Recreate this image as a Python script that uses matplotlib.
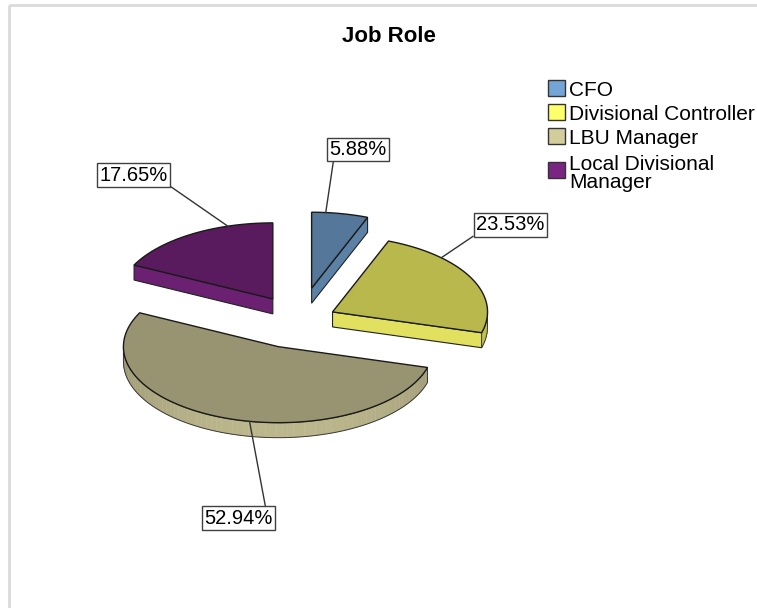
import numpy as np
import matplotlib.pyplot as plt
from matplotlib.patches import Polygon, Rectangle
from matplotlib.collections import PolyCollection
from matplotlib.colors import to_rgb

plt.rcParams['font.family'] = ['Liberation Sans', 'DejaVu Sans']

roles = ['CFO', 'Divisional Controller', 'LBU Manager', 'Local Divisional\nManager']
pcts = [5.88, 23.53, 52.94, 17.65]
colors = ['#74a5d6', '#ffff6b', '#d3cd9d', '#7b2583']

# label box offsets from the anchor point on the rim (px) and where the leader meets the box
label_offsets = [(32, -63), (69, -33), (-11, 97), (-94, -51)]
label_relpos = [(0.08, 0), (0, 0), (0.9, 1), (1, 0)]

W, H = 757, 608
fig = plt.figure(figsize=(W / 100, H / 100), dpi=100)
ax = fig.add_axes([0, 0, 1, 1])
ax.set_xlim(0, W)
ax.set_ylim(H, 0)
ax.axis('off')

# outer chart frame
ax.add_patch(Rectangle((9, 5), 900, 800, fill=False, ec='#dadada', lw=2))

ax.text(389, 36, 'Job Role', ha='center', va='center', fontsize=16, fontweight='bold')

# tilted pie geometry
a, b, depth = 155, 76, 15
cx, cy = 299.5, 320
explode = 34


def shade(col, facing):
    f = 0.72 + 0.17 * max(0.0, facing)
    return tuple(min(1, c * f) for c in to_rgb(col))


def rim(x0, y0, t):
    return np.column_stack([x0 + a * np.sin(t), y0 - b * np.cos(t)])


fracs = np.array(pcts) / np.sum(pcts)
ends = np.cumsum(fracs) * 2 * np.pi
starts = ends - fracs * 2 * np.pi

slices = []
for i in range(len(pcts)):
    t0, t1 = starts[i], ends[i]
    m = (t0 + t1) / 2
    u = np.array([np.sin(m), -np.cos(m)])
    v = np.array([a * np.sin(m), -b * np.cos(m)])
    off = explode * v / np.linalg.norm(v)
    slices.append((i, t0, t1, m, u, cx + off[0], cy + off[1]))

# back slices first
slices.sort(key=lambda s: s[6])
for z, (i, t0, t1, m, u, x0, y0) in enumerate(slices):
    zo = 2 + z * 5
    col = colors[i]
    apex = np.array([x0, y0])
    down = np.array([0, depth])

    # visible cut faces
    for t, visible, normal in [(t0, np.sin(t0) < -1e-6, t0 - np.pi / 2),
                               (t1, np.sin(t1) > 1e-6, t1 + np.pi / 2)]:
        if visible:
            p = rim(x0, y0, np.array([t]))[0]
            quad = [apex, p, p + down, apex + down]
            ax.add_patch(Polygon(quad, closed=True, fc=shade(col, -np.cos(normal)),
                                 ec='#222222', lw=0.8, zorder=zo))

    # front part of the outer wall
    lo, hi = max(t0, np.pi / 2), min(t1, 3 * np.pi / 2)
    if hi > lo:
        ts = np.linspace(lo, hi, 80)
        top = rim(x0, y0, ts)
        bot = top + down
        strips = [[top[k], top[k + 1], bot[k + 1], bot[k]] for k in range(len(ts) - 1)]
        fcs = [shade(col, -np.cos((ts[k] + ts[k + 1]) / 2)) for k in range(len(ts) - 1)]
        ax.add_collection(PolyCollection(strips, facecolors=fcs, edgecolors=fcs,
                                         lw=0.3, zorder=zo + 1))
        outline = np.vstack([top, bot[::-1]])
        ax.add_patch(Polygon(outline, closed=True, fill=False, ec='#3a3a3a',
                             lw=0.7, zorder=zo + 1))

    # top face
    arc = rim(x0, y0, np.linspace(t0, t1, 120))
    ax.add_patch(Polygon(np.vstack([apex, arc]), closed=True, fc=shade(col, 0),
                         ec='#1a1a1a', lw=1.0, zorder=zo + 2))

    # percentage label with leader line
    s = 1 / np.sqrt((np.sin(m) / a) ** 2 + (np.cos(m) / b) ** 2)
    anchor = apex + s * u
    dx, dy = label_offsets[i]
    ax.annotate(f'{pcts[i]:.2f}%', xy=anchor, xytext=(anchor[0] + dx, anchor[1] + dy),
                ha='center', va='center', fontsize=14.5, zorder=40,
                bbox=dict(boxstyle='square,pad=0.12', fc='white', ec='#404040', lw=1),
                arrowprops=dict(arrowstyle='-', color='#333333', lw=1,
                                relpos=label_relpos[i], shrinkA=0, shrinkB=0))

# legend
y = 80
for role, col in zip(roles, colors):
    if '\n' in role:
        y += 10
        ax.text(569, y - 7, role, ha='left', va='top', fontsize=15, linespacing=0.9)
    else:
        ax.text(569, y + 9, role, ha='left', va='center_baseline', fontsize=15)
    ax.add_patch(Rectangle((548, y), 17, 16, fc=col, ec='#333333', lw=1))
    y += 24

fig.savefig('out.png', dpi=100)
